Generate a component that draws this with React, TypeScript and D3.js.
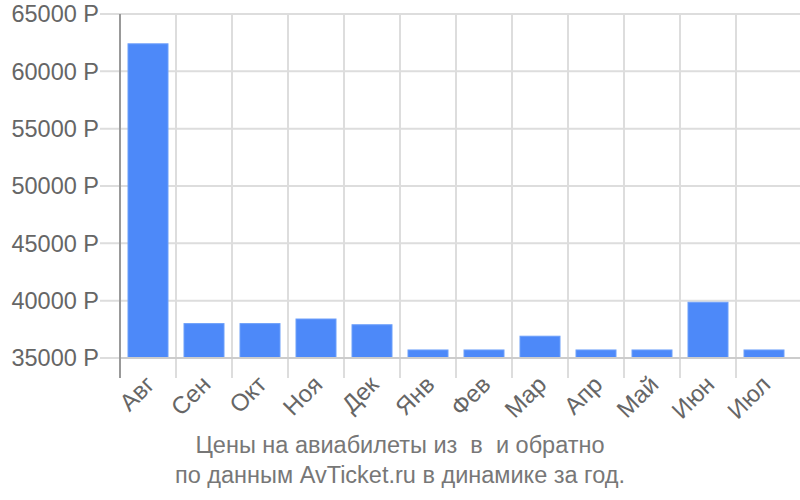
import React, { useRef, useEffect } from 'react';
import * as d3 from 'd3';

const months = ['Авг', 'Сен', 'Окт', 'Ноя', 'Дек', 'Янв', 'Фев', 'Мар', 'Апр', 'Май', 'Июн', 'Июл'];
const prices = [62400, 38000, 38000, 38400, 37900, 35700, 35700, 36900, 35700, 35700, 39860, 35700];
const yTicks = [35000, 40000, 45000, 50000, 55000, 60000, 65000];
const titleLines = ['Цены на авиабилеты из  в  и обратно', 'по данным AvTicket.ru в динамике за год.'];

const App: React.FC = () => {
  const svgRef = useRef<SVGSVGElement>(null);

  useEffect(() => {
    if (!svgRef.current) return;
    d3.select(svgRef.current).selectAll('*').remove();

    const margin = { top: 14, right: 8, bottom: 142, left: 120 };
    const totalW = 800;
    const totalH = 500;
    const width = totalW - margin.left - margin.right;
    const height = totalH - margin.top - margin.bottom;
    const font = "'Liberation Sans', Arial, sans-serif";

    const svg = d3.select(svgRef.current)
      .attr('width', totalW)
      .attr('height', totalH)
      .style('font-family', font);

    const g = svg.append('g').attr('transform', `translate(${margin.left},${margin.top})`);

    const x = d3.scaleBand().domain(months).range([0, width]).paddingInner(0).paddingOuter(0);
    const y = d3.scaleLinear().domain([35000, 65000]).range([height, 0]);

    // horizontal grid + tick stubs
    g.selectAll('.hgrid')
      .data(yTicks)
      .enter()
      .append('line')
      .attr('x1', -20)
      .attr('x2', totalW - margin.left)
      .attr('y1', d => y(d))
      .attr('y2', d => y(d))
      .attr('stroke', '#dddddd')
      .attr('stroke-width', 2);

    // vertical grid
    g.selectAll('.vgrid')
      .data(months.slice(1))
      .enter()
      .append('line')
      .attr('x1', d => x(d)!)
      .attr('x2', d => x(d)!)
      .attr('y1', 0)
      .attr('y2', height + 20)
      .attr('stroke', '#dddddd')
      .attr('stroke-width', 2);

    // bars
    const barPad = 8;
    g.selectAll('.bar')
      .data(months)
      .enter()
      .append('rect')
      .attr('x', d => x(d)! + barPad)
      .attr('width', x.bandwidth() - barPad * 2)
      .attr('y', (d, i) => y(prices[i]))
      .attr('height', (d, i) => height - y(prices[i]))
      .attr('fill', '#4d89f9')
      .attr('stroke', '#6d9ffa')
      .attr('stroke-width', 1);

    // baseline
    g.append('line')
      .attr('x1', 0)
      .attr('x2', totalW - margin.left)
      .attr('y1', height)
      .attr('y2', height)
      .attr('stroke', '#cccccc')
      .attr('stroke-width', 2);

    // y axis line
    g.append('line')
      .attr('x1', 0)
      .attr('x2', 0)
      .attr('y1', 0)
      .attr('y2', height + 20)
      .attr('stroke', '#999999')
      .attr('stroke-width', 2);

    // y labels
    g.selectAll('.ylabel')
      .data(yTicks)
      .enter()
      .append('text')
      .attr('x', -21)
      .attr('y', d => y(d))
      .attr('dy', '0.36em')
      .attr('text-anchor', 'end')
      .attr('font-size', '23.5px')
      .attr('fill', '#666666')
      .text(d => `${d} Р`);

    // x labels
    g.selectAll('.xlabel')
      .data(months)
      .enter()
      .append('text')
      .attr('text-anchor', 'end')
      .attr('font-size', '24px')
      .attr('fill', '#666666')
      .attr('transform', d => `translate(${x(d)! + x.bandwidth() / 2 + 8},${height + 28}) rotate(-45)`)
      .text(d => d);

    // caption
    svg.selectAll('.caption')
      .data(titleLines)
      .enter()
      .append('text')
      .attr('x', 400)
      .attr('y', (d, i) => 453 + i * 30)
      .attr('text-anchor', 'middle')
      .attr('font-size', '23.5px')
      .attr('fill', '#777777')
      .style('white-space', 'pre')
      .text(d => d);
  }, []);

  return (
    <div style={{ position: 'absolute', left: 0, top: 0 }}>
      <svg ref={svgRef}></svg>
    </div>
  );
};

export default App;
